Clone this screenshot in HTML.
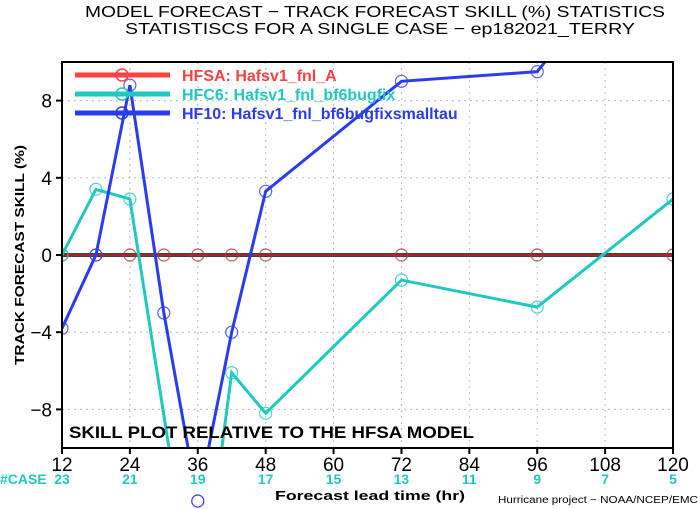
<!DOCTYPE html>
<html><head><meta charset="utf-8"><style>
html,body{margin:0;padding:0;background:#fff;width:700px;height:509px;overflow:hidden}
svg{display:block;font-family:"Liberation Sans",sans-serif;overflow:hidden}
</style></head><body>
<svg id="chart" width="700" height="509" viewBox="0 0 700 509">
<text x="375" y="17" font-size="16" text-anchor="middle" textLength="580" lengthAdjust="spacingAndGlyphs">MODEL FORECAST − TRACK FORECAST SKILL (%) STATISTICS</text>
<text x="380" y="34" font-size="16" text-anchor="middle" textLength="510" lengthAdjust="spacingAndGlyphs">STATISTISCS FOR A SINGLE CASE − ep182021_TERRY</text>
<defs><clipPath id="pc"><rect x="62" y="62" width="611" height="386"/></clipPath></defs>
<g id="grid"></g>
<g id="series" clip-path="url(#pc)"></g>
<g id="offmarks"></g>
<rect x="62" y="62" width="611" height="386" fill="none" stroke="#000" stroke-width="2"/>
<g id="axes"></g>
<g id="legend"></g>
<text x="69" y="438" font-size="17" font-weight="bold" textLength="405" lengthAdjust="spacingAndGlyphs">SKILL PLOT RELATIVE TO THE HFSA MODEL</text>
<text transform="translate(24,255) rotate(-90)" font-size="13" font-weight="bold" text-anchor="middle" textLength="220" lengthAdjust="spacingAndGlyphs">TRACK FORECAST SKILL (%)</text>
<text x="275" y="500" font-size="13" font-weight="bold" textLength="190" lengthAdjust="spacingAndGlyphs">Forecast lead time (hr)</text>
<text x="498" y="503" font-size="10" textLength="200" lengthAdjust="spacingAndGlyphs">Hurricane project − NOAA/NCEP/EMC</text>
<text x="0" y="484" font-size="14" font-weight="bold" fill="#1fc8c0">#CASE</text>
</svg>
<script>
const hours=[12,18,24,30,36,42,48,60,72,84,96,108,120];
const xTicks=[12,24,36,48,60,72,84,96,108,120];
const yTicks=[-8,-4,0,4,8];
const caseCounts=[23,21,19,17,15,13,11,9,7,5];
const hfsaHours=[12,18,24,30,36,42,48,72,96,120];
const hfsaVals=[0,0,0,0,0,0,0,0,0,0];
const hfc6Hours=[12,18,24,36,42,48,72,96,120];
const hfc6Vals=[0,3.4,2.9,-19.5,-6.1,-8.2,-1.3,-2.7,2.9];
const hf10Hours=[12,18,24,30,36,42,48,72,96,120];
const hf10Vals=[-3.8,0,8.8,-3.0,-12.8,-4.0,3.3,9.0,9.5,18.3];
const NS='http://www.w3.org/2000/svg';
const X=h=>62+(h-12)*611/108;
const Y=v=>255-v*19.3;
function mk(tag,attrs,parent,name){const e=document.createElementNS(NS,tag);for(const k in attrs)e.setAttribute(k,attrs[k]);


parent.appendChild(e);return e;}
const grid=document.getElementById('grid'),axes=document.getElementById('axes'),ser=document.getElementById('series'),off=document.getElementById('offmarks'),leg=document.getElementById('legend');
xTicks.forEach((t,i)=>{
 mk('line',{x1:X(t),x2:X(t),y1:62,y2:448,stroke:'#bbb','stroke-dasharray':'2,4'},grid,'x-gridline');
 mk('line',{x1:X(t),x2:X(t),y1:448,y2:454,stroke:'#000','stroke-width':2},axes,'x-tick');
 const tl=mk('text',{x:X(t),y:471,'font-size':19,'text-anchor':'middle'},axes,'x-tick-label');tl.textContent=t;
 const cl=mk('text',{x:X(t),y:484,'font-size':14,'font-weight':'bold','text-anchor':'middle',fill:'#1fc8c0'},axes,'case-count');cl.textContent=caseCounts[i];
});
yTicks.forEach(t=>{
 mk('line',{x1:62,x2:673,y1:Y(t),y2:Y(t),stroke:'#bbb','stroke-dasharray':'2,4'},grid,'y-gridline');
 mk('line',{x1:56,x2:62,y1:Y(t),y2:Y(t),stroke:'#000','stroke-width':2},axes,'y-tick');
 const tl=mk('text',{x:52,y:Y(t)+7,'font-size':19,'text-anchor':'end'},axes,'y-tick-label');tl.textContent=(t<0?'−':'')+Math.abs(t);
});
mk('line',{x1:62,x2:673,y1:Y(0),y2:Y(0),stroke:'#000','stroke-width':3.5},ser,'zero-line');
function series(hs,vs,color,name,w,op){
 mk('polyline',{points:hs.map((h,i)=>X(h)+','+Y(vs[i])).join(' '),fill:'none',stroke:color,'stroke-width':w,opacity:op},ser,name+'-line');
 hs.forEach((h,i)=>mk('circle',{cx:X(h),cy:Y(vs[i]),r:6,fill:'none',stroke:color,'stroke-width':1.2,opacity:0.8},ser,name+'-point'));
}
series(hfsaHours,hfsaVals,'#c03030','hfsa',2,0.85);
series(hfc6Hours,hfc6Vals,'#1fc8c0','hfc6',3,1);
series(hf10Hours,hf10Vals,'#2a3cf0','hf10',3,1);
hf10Hours.forEach((h,i)=>{const y=Y(hf10Vals[i]);if(y>448&&y<509)mk('circle',{cx:X(h),cy:Math.min(y,501),r:6,fill:'none',stroke:'#2a3cf0','stroke-width':1.2},off,'hf10-offscale-point');});
const L=[['HFSA:  Hafsv1_fnl_A','#ff4040',75],['HFC6:  Hafsv1_fnl_bf6bugfix','#1fc8c0',94],['HF10:  Hafsv1_fnl_bf6bugfixsmalltau','#2a3cf0',113]];
L.forEach(([t,c,y])=>{
 mk('line',{x1:75,x2:170,y1:y,y2:y,stroke:c,'stroke-width':5},leg,'legend-line');
 mk('circle',{cx:122,cy:y,r:6,fill:'none',stroke:c,'stroke-width':1.5},leg,'legend-marker');
 const tx=mk('text',{x:182,y:y+6,'font-size':16,'font-weight':'bold',fill:c,'xml:space':'preserve'},leg,'legend-entry');tx.textContent=t;
});
</script>
</body></html>
